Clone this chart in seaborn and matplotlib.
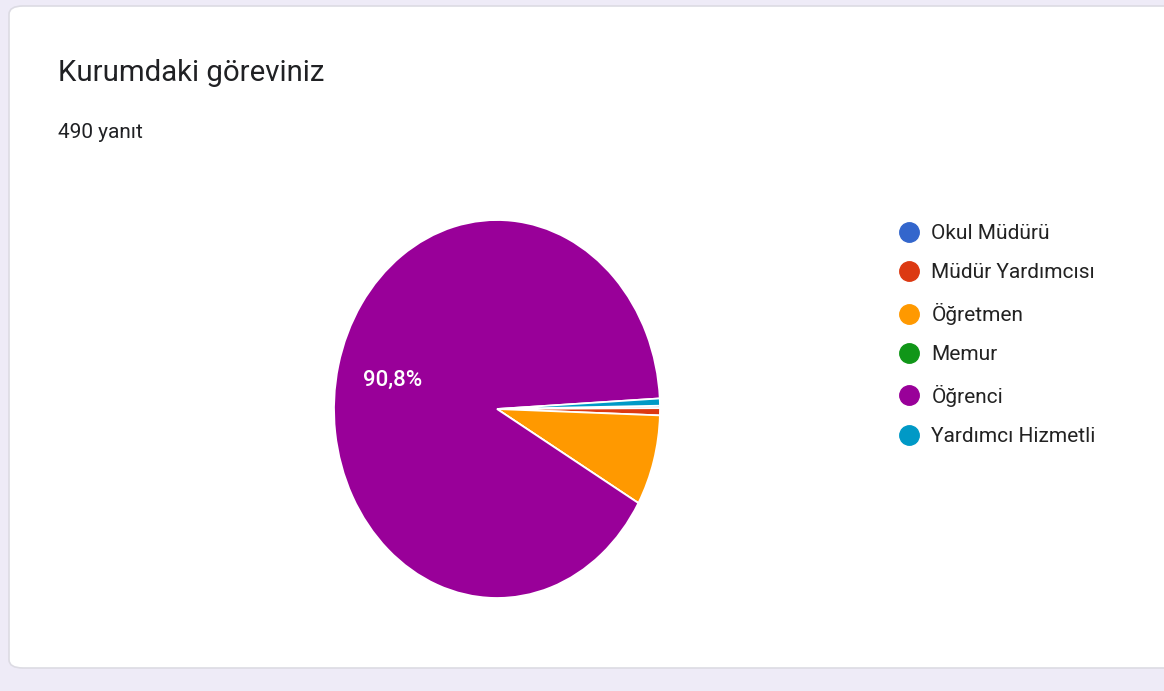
import numpy as np
import pandas as pd
import matplotlib.pyplot as plt
import seaborn as sns
from matplotlib.patches import FancyBboxPatch
from matplotlib.lines import Line2D

# veriler (490 yanıt)
roller = ['Okul Müdürü', 'Müdür Yardımcısı', 'Öğretmen', 'Memur', 'Öğrenci', 'Yardımcı Hizmetli']
sayilar = [1, 3, 38, 0, 445, 3]
renkler = ['#3366cc', '#dc3912', '#ff9900', '#109618', '#990099', '#0099c6']
baslik = 'Kurumdaki göreviniz'
alt_baslik = '490 yanıt'

df = pd.DataFrame({'rol': roller, 'sayi': sayilar})

sns.set_theme(style='white')
plt.rcParams['font.family'] = ['Roboto', 'DejaVu Sans']

W, H = 1164, 691
fig = plt.figure(figsize=(W / 100, H / 100), dpi=100)
fig.patch.set_facecolor('#eeebf7')

# beyaz kart
kart = FancyBboxPatch((9 / W, 23 / H), 1.2, (668 - 6) / H,
                      boxstyle='round,pad=0,rounding_size=0.012',
                      transform=fig.transFigure, facecolor='white',
                      edgecolor='#dcdbe3', linewidth=1.2, zorder=-5)
fig.patches.append(kart)

fig.text(58 / W, 1 - 73 / H, baslik, fontsize=21.2, color='#202124', va='center', ha='left')
fig.text(58 / W, 1 - 133 / H, alt_baslik, fontsize=15, color='#202124', va='center', ha='left')

# pasta grafiği (ekran görüntüsünde dikey uzamış)
ax = fig.add_axes([334 / W, (H - 598) / H, 326 / W, 378 / H], zorder=2)
ax.patch.set_alpha(0)
palet = sns.color_palette(renkler)
wedges, _, yuzdeler = ax.pie(df['sayi'], colors=palet, startangle=1, counterclock=False,
                             autopct=lambda p: (f'{p:.1f}'.replace('.', ',') + '%') if p > 50 else '',
                             pctdistance=0.66,
                             wedgeprops=dict(edgecolor='white', linewidth=1.3),
                             textprops=dict(color='white', fontsize=16, fontweight='medium'))
ax.set_aspect('auto')
ax.set_xlim(-1, 1)
ax.set_ylim(-1, 1)

tutamaclar = [Line2D([], [], marker='o', linestyle='', markersize=14, color=c) for c in palet]
fig.legend(tutamaclar, roller, loc='upper left', bbox_to_anchor=(899 / W, 1 - 224 / H),
           frameon=False, fontsize=15, labelspacing=0.98, handletextpad=0.55,
           handlelength=1.0, labelcolor='#222222', borderaxespad=0, borderpad=0)

fig.savefig('out.png', dpi=100, facecolor=fig.get_facecolor())
